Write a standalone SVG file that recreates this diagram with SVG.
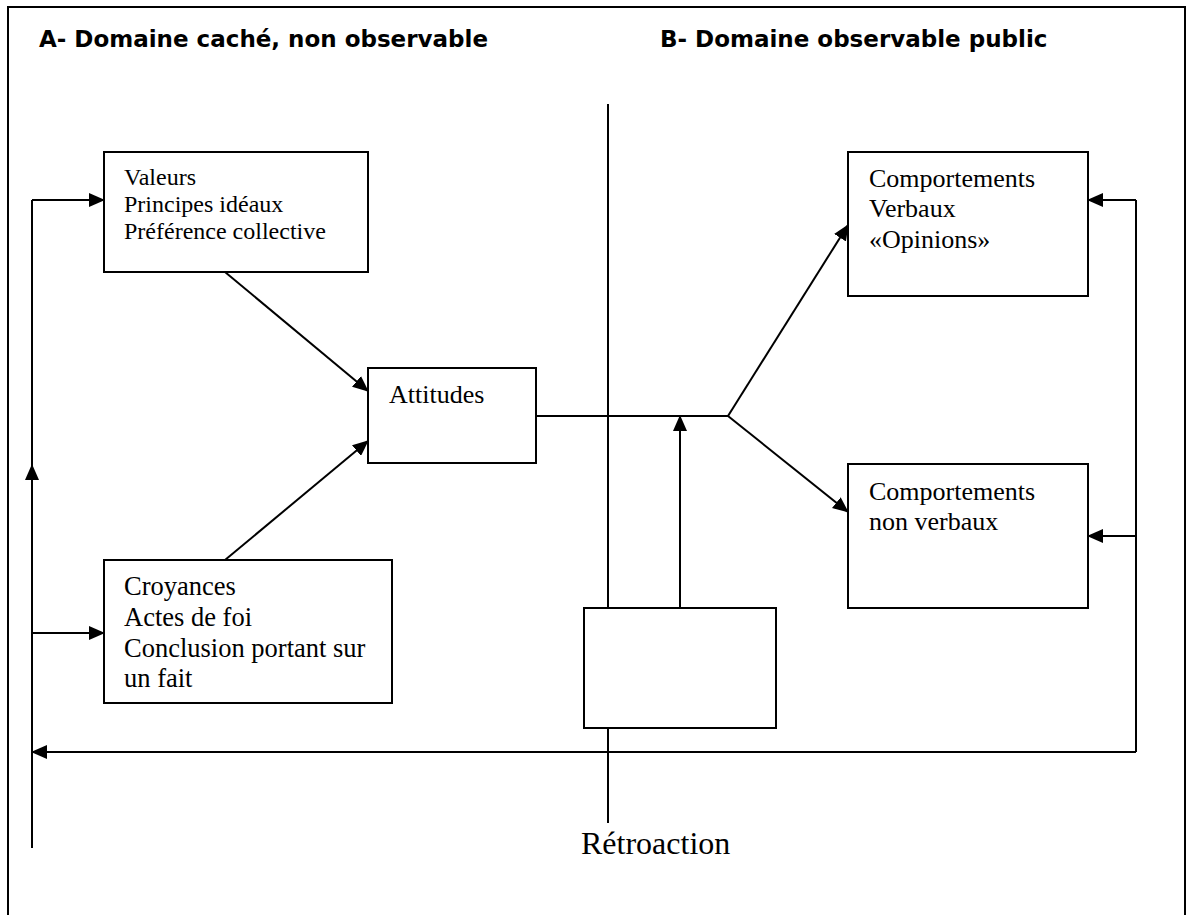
<svg xmlns="http://www.w3.org/2000/svg" width="1187" height="915" viewBox="0 0 1187 915">
  <style>
    .frame { fill: none; stroke: #000; stroke-width: 2; }
    .box { fill: #fff; stroke: #000; stroke-width: 2; }
    .line { fill: none; stroke: #000; stroke-width: 2; }
    .arrow { fill: none; stroke: #000; stroke-width: 2; marker-end: url(#head); }
    .title { font-family: "DejaVu Sans", Verdana, sans-serif; font-weight: bold; font-size: 23px; fill: #000; }
    .txt { font-family: "Liberation Serif", "Times New Roman", serif; fill: #000; }
  </style>
  <defs>
    <marker id="head" markerUnits="userSpaceOnUse" markerWidth="16" markerHeight="14" viewBox="0 0 16 14" refX="15" refY="7" orient="auto">
      <path d="M0 0 L16 7 L0 14 Z" fill="#000"/>
    </marker>
  </defs>

  <rect width="1187" height="915" fill="#fff"/>
  <!-- outer frame, open at the bottom -->
  <path class="frame" d="M8 920 V7 H1185 V920"/>

  <!-- domain headings -->
  <text class="title" x="39" y="47">A- Domaine caché, non observable</text>
  <text class="title" x="660" y="47">B- Domaine observable public</text>

  <g id="connectors">
    <!-- divider between the two domains -->
    <path class="line" d="M608 104 V823"/>
    <!-- inputs to attitudes -->
    <path class="arrow" d="M225 272 L368 391"/>
    <path class="arrow" d="M225 560 L368 441"/>
    <!-- attitudes to behaviours -->
    <path class="line" d="M536 416 H728"/>
    <path class="arrow" d="M728 416 L848 225"/>
    <path class="arrow" d="M728 416 L848 512"/>
    <!-- moderating box up to the attitude line -->
    <path class="arrow" d="M680 608 V416"/>
    <!-- feedback loop -->
    <path class="line" d="M1136 200 V752"/>
    <path class="arrow" d="M1136 200 H1088"/>
    <path class="arrow" d="M1136 536 H1088"/>
    <path class="arrow" d="M1136 752 H32"/>
    <path class="arrow" d="M32 848 V465"/>
    <path class="line" d="M32 466 V200"/>
    <path class="arrow" d="M32 200 H104"/>
    <path class="arrow" d="M32 633 H104"/>
  </g>

  <g id="valeurs">
    <rect class="box" x="104" y="152" width="264" height="120"/>
    <text class="txt" font-size="24" x="124" y="185">Valeurs</text>
    <text class="txt" font-size="24" x="124" y="212">Principes idéaux</text>
    <text class="txt" font-size="24" x="124" y="239">Préférence collective</text>
  </g>

  <g id="attitudes">
    <rect class="box" x="368" y="368" width="168" height="95"/>
    <text class="txt" font-size="26" x="389" y="403">Attitudes</text>
  </g>

  <g id="croyances">
    <rect class="box" x="104" y="560" width="288" height="143"/>
    <text class="txt" font-size="26.5" x="124" y="595">Croyances</text>
    <text class="txt" font-size="26.5" x="124" y="626">Actes de foi</text>
    <text class="txt" font-size="26.5" x="124" y="657">Conclusion portant sur</text>
    <text class="txt" font-size="26.5" x="124" y="687">un fait</text>
  </g>

  <g id="comportements-verbaux">
    <rect class="box" x="848" y="152" width="240" height="144"/>
    <text class="txt" font-size="26" x="869" y="187">Comportements</text>
    <text class="txt" font-size="26" x="869" y="217">Verbaux</text>
    <text class="txt" font-size="26" x="869" y="248">«Opinions»</text>
  </g>

  <g id="comportements-non-verbaux">
    <rect class="box" x="848" y="464" width="240" height="144"/>
    <text class="txt" font-size="26" x="869" y="500">Comportements</text>
    <text class="txt" font-size="26" x="869" y="530">non verbaux</text>
  </g>

  <g id="moderateur">
    <rect class="box" x="584" y="608" width="192" height="120"/>
  </g>

  <g id="retroaction">
    <text class="txt" font-size="32" x="581" y="854">Rétroaction</text>
  </g>
</svg>
